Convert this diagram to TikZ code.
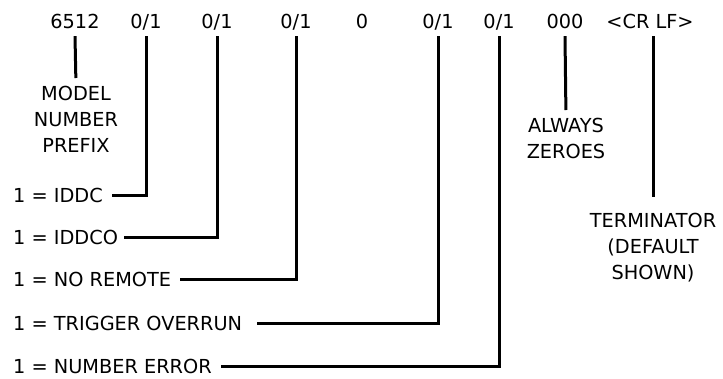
\documentclass[tikz,border=0pt]{standalone}
\usepackage{fontspec}
\setmainfont{DejaVu Sans}
\begin{document}
\begin{tikzpicture}[x=1pt,y=-1pt,
  every node/.style={font=\fontsize{19.3}{26}\selectfont},
  top/.style={anchor=base,inner xsep=0pt,inner ysep=8pt,text depth=0pt},
  lbl/.style={anchor=west,inner xsep=0pt,inner ysep=0pt,text height=14pt,text depth=0pt},
  note/.style={anchor=north,align=center,inner sep=0pt},
  wire/.style={line width=3pt},
  ]
\useasboundingbox (0,0) rectangle (723,378);
\node[top] (t1) at (75,28) {6512};
\node[top] (t2) at (146,28) {0/1};
\node[top] (t3) at (217,28) {0/1};
\node[top] (t4) at (296,28) {0/1};
\node[top] (t5) at (362,28) {0};
\node[top] (t6) at (438,28) {0/1};
\node[top] (t7) at (499,28) {0/1};
\node[top] (t8) at (565,28) {000};
\node[top] (t9) at (650,28) {<CR LF>};

\node[note] (m) at (76,86) {MODEL\\NUMBER\\PREFIX};
\node[note] (z) at (566,118) {ALWAYS\\ZEROES};
\node[note] (tr) at (653,213) {TERMINATOR\\(DEFAULT\\SHOWN)};

\node[lbl] (l1) at (13,195) {1 = IDDC};
\node[lbl] (l2) at (13,237) {1 = IDDCO};
\node[lbl] (l3) at (13,279) {1 = NO REMOTE};
\node[lbl] (l4) at (13,323) {1 = TRIGGER OVERRUN};
\node[lbl] (l5) at (13,366) {1 = NUMBER ERROR};

\draw[wire,shorten >=8pt] (t1.south) -- (m.north);
\draw[wire,shorten >=8pt] (t8.south) -- (z.north);
\draw[wire] (t9.south -| tr.north) -- ([yshift=16pt]tr.north);
\draw[wire] (t2.south) |- ([xshift=9pt]l1.east);
\draw[wire] (t3.south) |- ([xshift=6pt]l2.east);
\draw[wire] (t4.south) |- ([xshift=9pt]l3.east);
\draw[wire] (t6.south) |- ([xshift=15pt]l4.east);
\draw[wire] (t7.south) |- ([xshift=9pt]l5.east);
\end{tikzpicture}
\end{document}
